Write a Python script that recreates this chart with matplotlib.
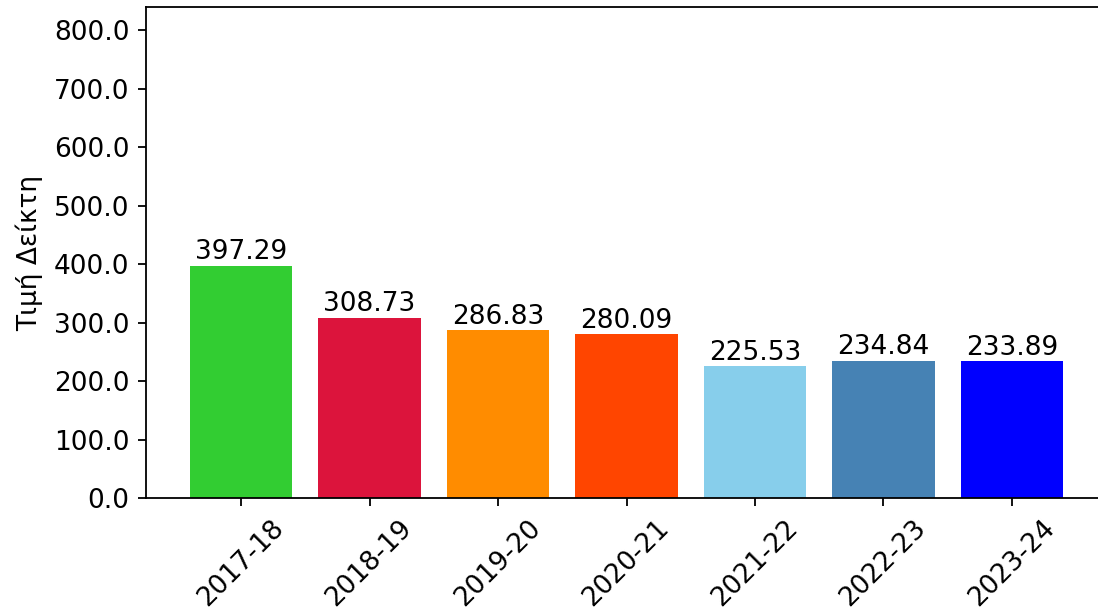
import matplotlib
matplotlib.use("Agg")
import matplotlib.pyplot as plt

years = ["2017-18", "2018-19", "2019-20", "2020-21", "2021-22", "2022-23", "2023-24"]
values = [397.29, 308.73, 286.83, 280.09, 225.53, 234.84, 233.89]
colors = ["limegreen", "crimson", "darkorange", "orangered", "skyblue", "steelblue", "blue"]

FS = 19
W, H = 1098, 616
fig = plt.figure(figsize=(W / 100, H / 100), dpi=100)
# axes extends slightly past the right edge of the figure
ax = fig.add_axes([146 / W, 118 / H, (1107 - 146) / W, (498 - 7) / H])

x = range(len(years))
bars = ax.bar(x, values, color=colors, width=0.8)
for b, v in zip(bars, values):
    ax.text(b.get_x() + b.get_width() / 2, v + 1, f"{v:.2f}",
            ha="center", va="bottom", fontsize=FS)

ax.set_xlim(-0.74, 6.74)
ax.set_ylim(0, 840)
ax.set_xticks(list(x))
ax.set_xticklabels(years, rotation=45, fontsize=FS)
ax.set_yticks(range(0, 801, 100))
ax.set_yticklabels([f"{t:.1f}" for t in range(0, 801, 100)], fontsize=FS)
ax.set_ylabel("Τιμή Δείκτη", fontsize=FS, labelpad=8)
ax.tick_params(length=6, width=1.3, pad=6)
for s in ax.spines.values():
    s.set_linewidth(1.3)

fig.savefig("out.png", dpi=100)
